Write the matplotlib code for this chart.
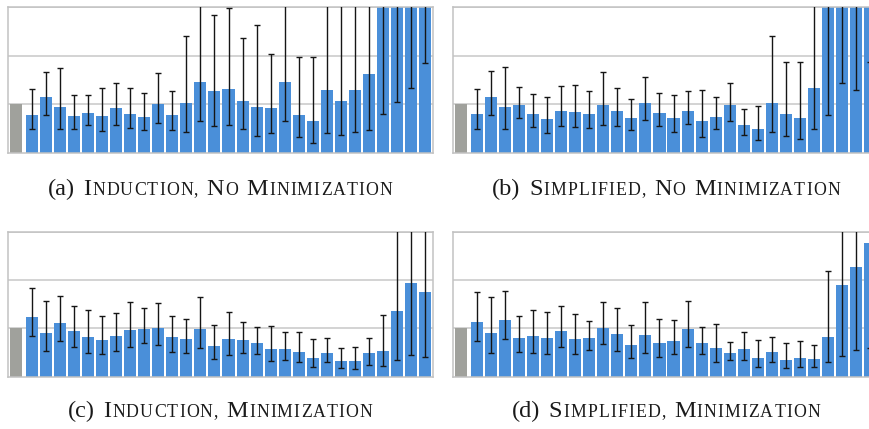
import numpy as np
import matplotlib
matplotlib.use("Agg")
import matplotlib.pyplot as plt
from matplotlib.offsetbox import TextArea, HPacker, AnchoredOffsetbox

# reference (grey) bar and 29 configurations per panel
baseline = 1.0

a_mean = [0.79, 1.15, 0.94, 0.77, 0.83, 0.77, 0.92, 0.81, 0.75, 1.00, 0.79, 1.02, 1.46, 1.27, 1.31,
          1.08, 0.94, 0.92, 1.46, 0.79, 0.65, 1.29, 1.08, 1.29, 1.63, 3.6, 3.9, 4.2, 4.6]
a_lo = [0.49, 0.78, 0.49, 0.49, 0.58, 0.46, 0.58, 0.51, 0.47, 0.62, 0.48, 0.44, 0.66, 0.56, 0.58,
        0.49, 0.34, 0.42, 0.66, 0.33, 0.20, 0.42, 0.37, 0.44, 0.48, 0.81, 1.06, 1.33, 1.85]
a_hi = [1.32, 1.67, 1.76, 1.20, 1.19, 1.33, 1.44, 1.33, 1.24, 1.65, 1.28, 2.40, 3.4, 2.85, 2.98,
        2.37, 2.63, 2.03, 3.6, 1.97, 1.97, 3.5, 3.8, 3.7, 3.9, 6.0, 6.5, 7.0, 7.5]

b_mean = [0.81, 1.15, 0.94, 0.98, 0.81, 0.71, 0.875, 0.85, 0.81, 0.98, 0.875, 0.73, 1.02, 0.83, 0.73,
          0.875, 0.65, 0.75, 0.98, 0.58, 0.50, 1.02, 0.81, 0.73, 1.33, 3.7, 4.0, 4.3, 4.6]
b_lo = [0.49, 0.78, 0.49, 0.72, 0.54, 0.42, 0.55, 0.53, 0.51, 0.58, 0.56, 0.48, 0.68, 0.56, 0.44,
        0.59, 0.33, 0.50, 0.65, 0.38, 0.26, 0.44, 0.35, 0.28, 0.49, 0.78, 1.44, 1.29, 1.87]
b_hi = [1.32, 1.68, 1.78, 1.36, 1.22, 1.15, 1.37, 1.39, 1.28, 1.66, 1.34, 1.12, 1.56, 1.24, 1.19,
        1.28, 1.29, 1.15, 1.45, 0.91, 0.97, 2.40, 1.88, 1.87, 3.5, 6.0, 6.5, 7.0, 7.5]

c_mean = [1.23, 0.90, 1.11, 0.94, 0.82, 0.76, 0.84, 0.97, 0.99, 1.01, 0.82, 0.78, 0.99, 0.63, 0.78,
          0.76, 0.70, 0.57, 0.57, 0.51, 0.39, 0.49, 0.32, 0.32, 0.49, 0.53, 1.36, 1.94, 1.75]
c_lo = [0.84, 0.53, 0.73, 0.61, 0.49, 0.46, 0.54, 0.61, 0.70, 0.66, 0.52, 0.50, 0.59, 0.37, 0.44,
        0.50, 0.46, 0.32, 0.34, 0.30, 0.20, 0.30, 0.17, 0.15, 0.24, 0.23, 0.34, 0.45, 0.40]
c_hi = [1.83, 1.56, 1.67, 1.46, 1.38, 1.25, 1.32, 1.54, 1.43, 1.52, 1.25, 1.19, 1.64, 1.08, 1.34,
        1.14, 1.02, 1.04, 0.92, 0.92, 0.79, 0.81, 0.59, 0.61, 0.81, 1.27, 3.5, 4.0, 3.8]

d_mean = [1.13, 0.90, 1.17, 0.80, 0.84, 0.80, 0.94, 0.78, 0.80, 1.01, 0.88, 0.66, 0.86, 0.70, 0.74,
          0.99, 0.70, 0.59, 0.49, 0.57, 0.39, 0.51, 0.34, 0.39, 0.37, 0.82, 1.90, 2.27, 2.77]
d_lo = [0.73, 0.50, 0.77, 0.52, 0.50, 0.48, 0.61, 0.46, 0.56, 0.67, 0.54, 0.39, 0.49, 0.41, 0.46,
        0.61, 0.46, 0.31, 0.34, 0.34, 0.20, 0.30, 0.17, 0.20, 0.21, 0.30, 0.43, 0.55, 0.59]
d_hi = [1.76, 1.64, 1.78, 1.25, 1.37, 1.33, 1.47, 1.30, 1.16, 1.54, 1.43, 1.07, 1.55, 1.20, 1.18,
        1.56, 1.02, 1.10, 0.72, 0.92, 0.76, 0.83, 0.69, 0.74, 0.65, 2.19, 3.5, 3.8, 4.0]

captions = [
    ("(a)", ["Induction,", "No", "Minimization"]),
    ("(b)", ["Simplified,", "No", "Minimization"]),
    ("(c)", ["Induction,", "Minimization"]),
    ("(d)", ["Simplified,", "Minimization"]),
]

BLUE = "#4A8FD9"
GREY = "#A0A19C"
W, H = 870, 429


def small_caps(fig, label, words, x, y):
    # fake small caps: first letter full size, the rest as smaller capitals, letterspaced
    big = dict(family="Liberation Serif", size=17.5, color="#1a1a1a")
    small = dict(family="Liberation Serif", size=12.8, color="#1a1a1a")
    boxes = [TextArea(label, textprops=big)]
    for w in words:
        letters = [TextArea(w[0], textprops=big)]
        letters += [TextArea(ch, textprops=small) for ch in w[1:].upper()]
        boxes.append(HPacker(children=letters, align="baseline", pad=0, sep=0.8))
    box = HPacker(children=boxes, align="baseline", pad=0, sep=6)
    anchored = AnchoredOffsetbox(loc="center", child=box, pad=0, borderpad=0, frameon=False,
                                 bbox_to_anchor=(x, y), bbox_transform=fig.transFigure)
    fig.add_artist(anchored)


def panel(ax, mean, lo, hi):
    mean = np.array(mean)
    lo = np.array(lo)
    hi = np.array(hi)
    x = np.arange(1, len(mean) + 1)
    ax.bar(-0.14, baseline, width=0.86, color=GREY, zorder=2)
    ax.bar(x, mean, width=0.86, color=BLUE, zorder=2)
    ax.errorbar(x, mean, yerr=[mean - lo, hi - mean], fmt="none", ecolor="#151515",
                elinewidth=1.0, capsize=2, capthick=1.0, zorder=3)
    ax.set_xlim(-0.71, len(mean) + 0.57)
    ax.set_ylim(0, 3)
    ax.set_yticks([1, 2, 3])
    ax.set_xticks([])
    ax.grid(axis="y", color="#C8C8C8", linewidth=1.1)
    ax.set_axisbelow(True)
    ax.tick_params(length=0, labelleft=False, labelbottom=False)
    for s in ax.spines.values():
        s.set_color("#C2C2C2")
        s.set_linewidth(1.1)


fig = plt.figure(figsize=(W / 100, H / 100), dpi=100)

ax_w = 425 / W
top_row = ((429 - 153) / H, (153 - 7.3) / H)
bot_row = ((429 - 376.7) / H, (376.7 - 231.7) / H)

axes = [
    fig.add_axes([8 / W, top_row[0], ax_w, top_row[1]]),
    fig.add_axes([453 / W, top_row[0], ax_w, top_row[1]]),
    fig.add_axes([8 / W, bot_row[0], ax_w, bot_row[1]]),
    fig.add_axes([453 / W, bot_row[0], ax_w, bot_row[1]]),
]

panel(axes[0], a_mean, a_lo, a_hi)
panel(axes[1], b_mean, b_lo, b_hi)
panel(axes[2], c_mean, c_lo, c_hi)
panel(axes[3], d_mean, d_lo, d_hi)

cap_pos = [(220, 189), (666, 189), (220, 411), (666, 411)]
for (label, words), (cx, cy) in zip(captions, cap_pos):
    small_caps(fig, label, words, cx / W, 1 - cy / H)

fig.savefig("out.png", dpi=100)
